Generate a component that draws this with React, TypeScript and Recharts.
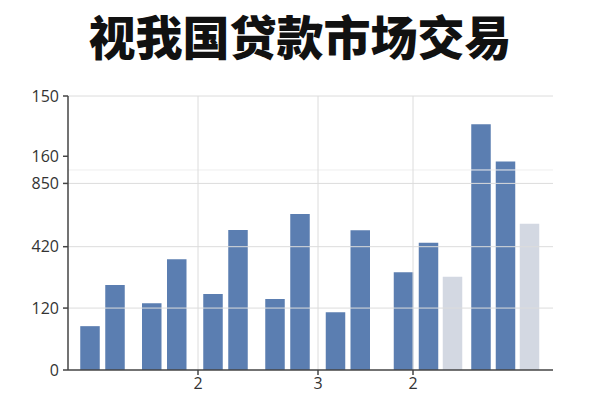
import React from 'react';
import { BarChart, Bar, XAxis, YAxis, Cell, ReferenceLine } from 'recharts';

// bar slots along the axis (one unit = one bar pitch)
const slots = [0.89, 1.89, 3.36, 4.36, 5.81, 6.81, 8.29, 9.29, 10.71, 11.7, 13.43, 14.43, 15.39, 16.53, 17.51, 18.47];
const values = [16.0, 31.0, 24.4, 40.4, 27.7, 51.1, 25.9, 56.9, 21.1, 51.0, 35.7, 46.4, 34.0, 89.7, 76.1, 53.4];
const series = ['a', 'a', 'a', 'a', 'a', 'a', 'a', 'a', 'a', 'a', 'a', 'a', 'b', 'a', 'a', 'b'];

const xTicks = [5.2, 10, 13.8];
const xTickLabels = ['2', '3', '2'];
const yTicks = [0, 22.6, 45, 68.1, 78, 100];
const yTickLabels = ['0', '120', '420', '850', '160', '150'];
const gridY = [22.6, 45, 68.1, 100];
const faintGridY = [73];

const colors: Record<string, string> = { a: '#5b7eb1', b: '#d3d8e2' };

const data = slots.map((x, i) => ({ x, value: values[i], series: series[i] }));

const tickFont = { fontFamily: 'Open Sans, sans-serif', fontSize: 16, fill: '#333' };

export default function App() {
  return (
    <div style={{ position: 'absolute', left: 0, top: 0, width: 600, height: 400, background: '#fff' }}>
      <div
        style={{
          position: 'absolute',
          left: 0,
          top: 6,
          width: 600,
          textAlign: 'center',
          fontFamily: '"Noto Sans CJK SC", sans-serif',
          fontWeight: 900,
          fontSize: 47,
          lineHeight: '58px',
          color: '#111',
        }}
      >
        视我国贷款市场交易
      </div>
      <BarChart width={600} height={400} data={data} margin={{ top: 96, right: 47, bottom: 0, left: 8 }}>
        {gridY.map((y) => (
          <ReferenceLine key={'gy' + y} y={y} stroke="#dcdcdc" />
        ))}
        {faintGridY.map((y) => (
          <ReferenceLine key={'fy' + y} y={y} stroke="#eeeeee" />
        ))}
        {xTicks.map((x) => (
          <ReferenceLine key={'gx' + x} x={x} stroke="#dcdcdc" />
        ))}
        <XAxis
          dataKey="x"
          type="number"
          domain={[0, 19.4]}
          ticks={xTicks}
          tickFormatter={(v: number) => xTickLabels[xTicks.indexOf(v)]}
          height={30}
          stroke="#444"
          strokeWidth={1.5}
          tickSize={5}
          tickMargin={3}
          tick={tickFont}
          allowDataOverflow
        />
        <YAxis
          type="number"
          domain={[0, 100]}
          ticks={yTicks}
          tickFormatter={(v: number) => yTickLabels[yTicks.indexOf(v)]}
          width={60}
          stroke="#444"
          strokeWidth={1.5}
          tickSize={5}
          tickMargin={4}
          tick={tickFont}
          interval={0}
        />
        <Bar dataKey="value" barSize={19.5} isAnimationActive={false}>
          {data.map((d, i) => (
            <Cell key={i} fill={colors[d.series]} />
          ))}
        </Bar>
      </BarChart>
    </div>
  );
}
